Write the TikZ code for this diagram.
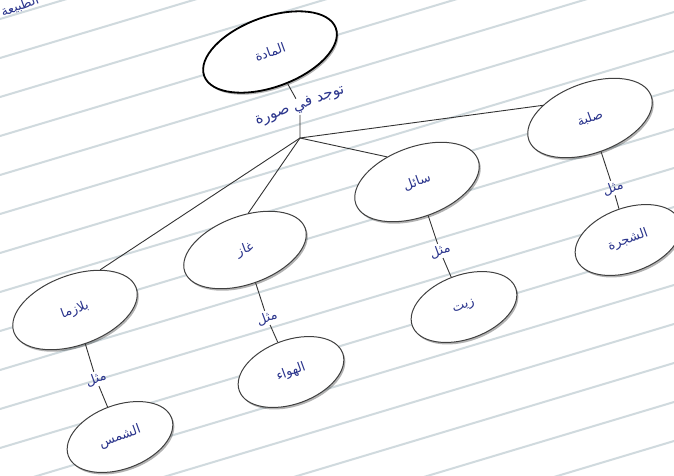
\documentclass[tikz,border=0pt]{standalone}
\usepackage{fontspec}
\usetikzlibrary{shapes.geometric,shadows}
\newfontfamily\arabicfont[Script=Arabic]{DejaVu Sans}
\TeXXeTstate=1
\newcommand{\artxt}[1]{{\arabicfont\beginR #1\endR}}
\definecolor{inkblue}{RGB}{42,52,140}
\definecolor{ruleline}{RGB}{208,218,222}
\tikzset{
  concept/.style={ellipse, draw=black!75, line width=1pt, fill=white,
    minimum width=130pt, minimum height=70pt, rotate=20, inner sep=0pt,
    text=inkblue, font=\fontsize{13}{15}\selectfont,
    drop shadow={shadow xshift=1.5pt, shadow yshift=-2pt, opacity=0.3, fill=black}},
  example/.style={concept, minimum width=110pt, minimum height=64pt},
  linklabel/.style={rotate=20, inner sep=1.5pt, text=inkblue, font=\fontsize{13}{15}\selectfont},
  connector/.style={draw=black!80, line width=0.9pt}
}
\begin{document}
\begin{tikzpicture}[x=1pt,y=-1pt]
\clip (0,0) rectangle (674,475);
\fill[white] (0,0) rectangle (674,475);
% ruled paper lines
\foreach \k in {-6,...,14}{
  \draw[ruleline, line width=2pt] (0,{175+39*\k}) -- (674,{175+39*\k-202});
}
% partial text at top-left corner
\node[linklabel] (corner) at (20,6) {\artxt{الطبيعة}};
% concepts
\node[concept, line width=1.8pt, draw=black, minimum width=140pt] (matter) at (270,52) {\artxt{المادة}};
\node[concept] (solid) at (590,118) {\artxt{صلبة}};
\node[concept] (liquid) at (417,182) {\artxt{سائل}};
\node[concept, minimum width=128pt, minimum height=68pt] (gas) at (245,250) {\artxt{غاز}};
\node[concept] (plasma) at (75,310) {\artxt{بلازما}};
\node[example] (tree) at (628,240) {\artxt{الشجرة}};
\node[example] (oil) at (464,307) {\artxt{زيت}};
\node[example] (air) at (291,372) {\artxt{الهواء}};
\node[example] (sun) at (120,437) {\artxt{الشمس}};
% link labels
\node[linklabel, font=\fontsize{15}{17}\selectfont] (form) at (300,106) {\artxt{توجد في صورة}};
\node[linklabel] (m1) at (613,188) {\artxt{مثل}};
\node[linklabel] (m2) at (440,251) {\artxt{مثل}};
\node[linklabel] (m3) at (267,318) {\artxt{مثل}};
\node[linklabel] (m4) at (96,379) {\artxt{مثل}};
\coordinate (hub) at (300,138);
% connectors
\draw[connector] (matter) -- (form);
\draw[connector] (form) -- (hub);
\draw[connector] (hub) -- (solid.145);
\draw[connector] (hub) -- (liquid.120);
\draw[connector] (hub) -- (gas.65);
\draw[connector] (hub) -- (plasma.38);
\draw[connector] (solid) -- (m1) -- (tree);
\draw[connector] (liquid) -- (m2) -- (oil);
\draw[connector] (gas) -- (m3) -- (air);
\draw[connector] (plasma) -- (m4) -- (sun);
\end{tikzpicture}
\end{document}
